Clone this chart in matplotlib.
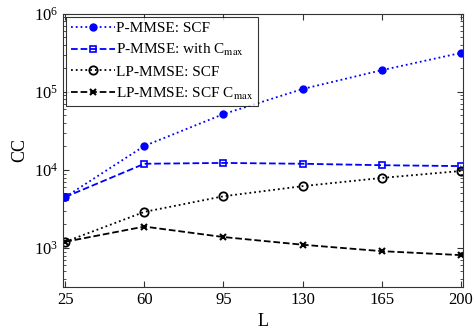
import matplotlib
matplotlib.use('Agg')
import matplotlib.pyplot as plt
import numpy as np

plt.rcParams['font.family'] = ['Liberation Serif', 'DejaVu Serif']
plt.rcParams['mathtext.fontset'] = 'stix'

L = [25, 60, 95, 130, 165, 200]
p_scf = [4500, 20300, 52000, 109000, 190000, 316000]
p_cmax = [4500, 12000, 12300, 12000, 11500, 11200]
lp_scf = [1200, 2900, 4600, 6200, 7900, 9700]
lp_cmax = [1200, 1880, 1380, 1100, 910, 810]

fig = plt.figure(figsize=(4.77, 3.31), dpi=100)
ax = fig.add_axes([0.132, 0.133, 0.839, 0.825])

ax.semilogy(L, p_scf, ':', color='blue', marker='o', markersize=5, lw=1.3,
            label='P-MMSE: SCF')
ax.semilogy(L, p_cmax, '--', color='blue', marker='s', markersize=5, lw=1.3,
            markerfacecolor='none', markeredgewidth=1.2, label='P-MMSE: with C$_{\\rm max}$')
ax.semilogy(L, lp_scf, ':', color='black', marker='o', markersize=6, lw=1.3,
            markerfacecolor='none', markeredgewidth=1.3, label='LP-MMSE: SCF')
ax.semilogy(L, lp_cmax, '--', color='black', marker='x', markersize=5, lw=1.3,
            markeredgewidth=1.5, label='LP-MMSE: SCF C$_{\\rm max}$')

ax.set_xlim(24, 201)
ax.set_ylim(10**2.5, 1e6)
ax.set_xticks(L)
ax.set_xlabel('L', fontsize=13)
ax.set_ylabel('CC', fontsize=13)
ax.tick_params(which='both', direction='in', top=True, right=True, labelsize=12, color='#333333')
ax.tick_params(which='major', length=4)
ax.tick_params(which='minor', length=2)
for s in ax.spines.values():
    s.set_color('#333333')
    s.set_linewidth(0.8)

leg = ax.legend(loc='upper left', fontsize=11, frameon=True, fancybox=False,
                edgecolor='black', borderpad=0.3, labelspacing=0.45,
                handlelength=2.9, handletextpad=0.1, borderaxespad=0.2)
leg.get_frame().set_linewidth(0.8)

fig.savefig('out.png', dpi=100)
